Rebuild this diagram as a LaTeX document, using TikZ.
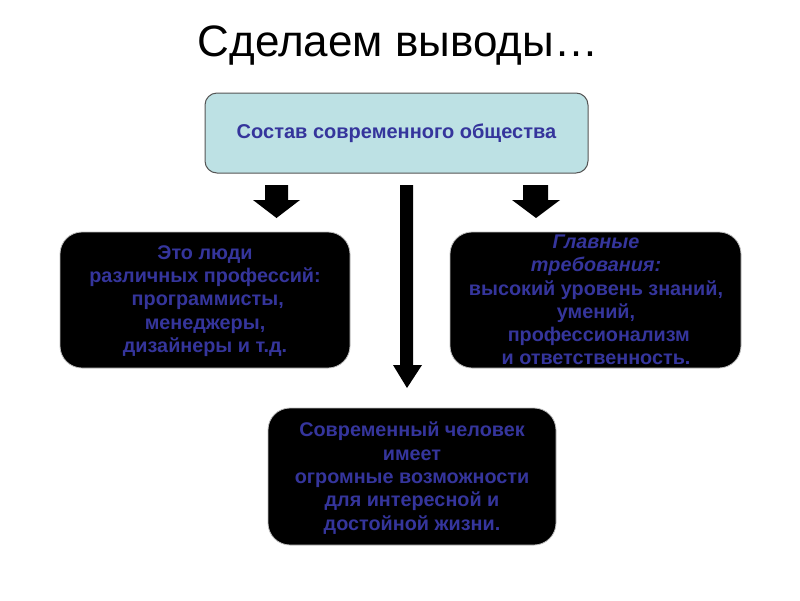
\documentclass[tikz,border=0pt]{standalone}
\usepackage{fontspec}
\setmainfont{Liberation Sans}
\definecolor{txtblue}{HTML}{35359C}
\definecolor{topfill}{HTML}{BDE1E4}
\definecolor{topdraw}{HTML}{555555}
\begin{document}
\begin{tikzpicture}[x=1pt,y=-1pt,
  boxtext/.style={font=\fontsize{19.8}{23.3}\selectfont\bfseries, text=txtblue, align=center},
  blackbox/.style={fill=black, draw=gray!50, line width=0.8pt, rounded corners=22pt},
  blockarrow/.style={fill=black, draw=none}]
\useasboundingbox (0,0) rectangle (800,600);
\fill[white] (0,0) rectangle (800,600);
% title
\node[font=\fontsize{44}{50}\selectfont] (title) at (398,46) {Сделаем выводы…};
% top box
\draw[fill=topfill, draw=topdraw, line width=1pt, rounded corners=12pt] (205,93) rectangle (588,173);
\node[boxtext, font=\fontsize{20}{23}\selectfont\bfseries] (top) at (396.5,133) {Состав современного общества};
% left box
\draw[blackbox] (60,232) rectangle (350,368);
\node[boxtext] (left) at (205,301) {Это люди\\различных профессий:\\~программисты,\\менеджеры,\\дизайнеры и т.д.};
% right box
\draw[blackbox] (450,232) rectangle (741,368);
\node[boxtext] (right) at (596,300) {\textit{Главные}\\\textit{требования:}\\высокий уровень знаний,\\умений,\\~профессионализм\\и ответственность.};
% bottom box
\draw[blackbox] (268,408) rectangle (556,545);
\node[boxtext] (bottom) at (412,478) {Современный человек\\имеет\\огромные возможности\\для интересной и\\достойной жизни.};
% arrows
\fill[blockarrow] (265,185) -- (288,185) -- (288,200) -- (300,200) -- (276.5,218) -- (253,200) -- (265,200) -- cycle;
\fill[blockarrow] (523,185) -- (548,185) -- (548,200) -- (560,200) -- (536,218) -- (512,200) -- (523,200) -- cycle;
\fill[blockarrow] (400,185) -- (413,185) -- (413,365) -- (422,365) -- (407,388) -- (393,365) -- (400,365) -- cycle;
\end{tikzpicture}
\end{document}
